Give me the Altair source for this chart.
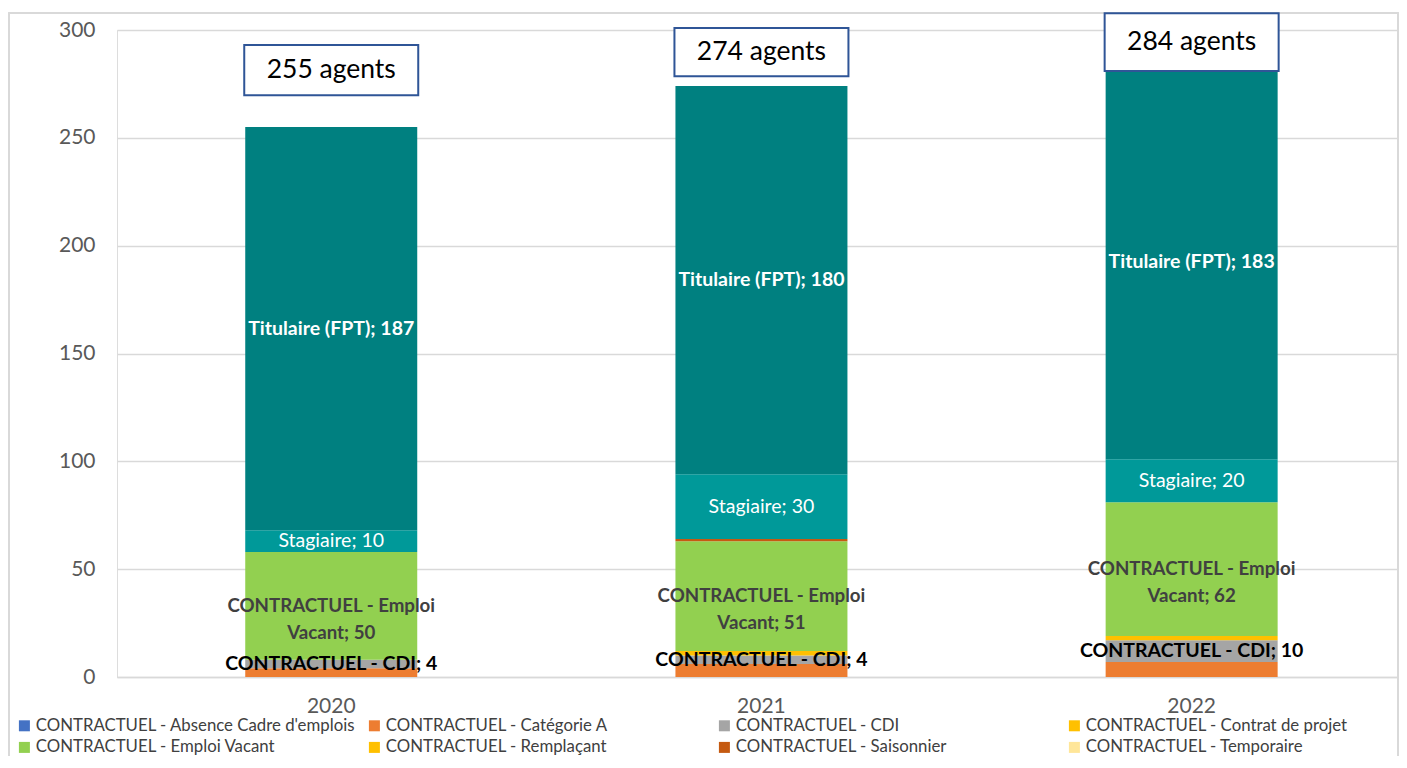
import altair as alt
import pandas as pd

years = ["2020", "2021", "2022"]
categories = [
    "CONTRACTUEL - Absence Cadre d'emplois",
    "CONTRACTUEL - Catégorie A",
    "CONTRACTUEL - CDI",
    "CONTRACTUEL - Contrat de projet",
    "CONTRACTUEL - Emploi Vacant",
    "CONTRACTUEL - Remplaçant",
    "CONTRACTUEL - Saisonnier",
    "CONTRACTUEL - Temporaire",
    "Stagiaire",
    "Titulaire (FPT)",
]
colors = ["#4472C4", "#ED7D31", "#A5A5A5", "#FFC000", "#92D050",
          "#FFC000", "#C55A11", "#FFE699", "#009999", "#008080"]

absence = [0, 0, 0]
cat_a = [4, 6, 7]
cdi = [4, 4, 10]
contrat_projet = [0, 2, 2]
emploi_vacant = [50, 51, 62]
remplacant = [0, 0, 0]
saisonnier = [0, 1, 0]
temporaire = [0, 0, 0]
stagiaire = [10, 30, 20]
titulaire = [187, 180, 183]

totals = [255, 274, 284]
box_bottom = [269.8, 278.6, 281.0]
box_top = [293.0, 300.9, 307.8]

series = [absence, cat_a, cdi, contrat_projet, emploi_vacant,
          remplacant, saisonnier, temporaire, stagiaire, titulaire]

rows = []
for ci, (cat, vals) in enumerate(zip(categories, series)):
    for yi, y in enumerate(years):
        v = vals[yi]
        if cat == "CONTRACTUEL - Emploi Vacant":
            lab = f"CONTRACTUEL - Emploi\nVacant; {v}"
        else:
            lab = f"{cat}; {v}"
        rows.append({"year": y, "category": cat, "value": v, "order": ci, "label": lab})
df = pd.DataFrame(rows)

boxes = pd.DataFrame({"year": years, "lo": box_bottom, "hi": box_top,
                      "mid": [(a + b) / 2 for a, b in zip(box_bottom, box_top)],
                      "txt": [f"{t} agents" for t in totals]})

FONT = "Lato"
x_scale = alt.Scale(paddingInner=0.1, paddingOuter=0.04, align=0.6)
x_enc = alt.X("year:N", title=None, sort=years, scale=x_scale,
              axis=alt.Axis(labelAngle=0, labelFontSize=21, labelColor="#595959",
                            labelPadding=18, ticks=False, domainColor="#D9D9D9",
                            domainWidth=1.5, grid=False, labelFont=FONT))
y_scale = alt.Scale(domain=[0, 300], nice=False)
y_axis = alt.Axis(values=[0, 50, 100, 150, 200, 250, 300], labelFontSize=21,
                  labelColor="#595959", labelPadding=22, ticks=False, domain=False,
                  gridColor="#D9D9D9", gridWidth=1.5, labelFont=FONT)

bars = alt.Chart(df).mark_bar(size=172).encode(
    x=x_enc,
    y=alt.Y("sum(value):Q", title=None, scale=y_scale, axis=y_axis, stack="zero"),
    color=alt.Color("category:N", sort=categories,
                    scale=alt.Scale(domain=categories, range=colors),
                    legend=alt.Legend(
                        values=categories[:8], title=None, orient="none",
                        direction="horizontal", columns=4, legendX=-101, legendY=687,
                        symbolType="square", symbolSize=121, symbolStrokeWidth=0,
                        labelFontSize=16.8, labelColor="#404040", labelFont=FONT,
                        labelLimit=400, gridAlign="all", columnPadding=10,
                        rowPadding=4, labelOffset=3, padding=0)),
    order=alt.Order("order:Q", sort="ascending"),
)

base_lab = alt.Chart(df).transform_window(
    cum="sum(value)", groupby=["year"], sort=[alt.SortField("order")], frame=[None, 0]
).transform_calculate(mid="datum.cum - datum.value / 2")

def lab_layer(cat, color, weight, size):
    return base_lab.transform_filter(alt.datum.category == cat).mark_text(
        color=color, fontWeight=weight, fontSize=size, font=FONT, lineBreak="\n",
        lineHeight=27, baseline="middle", align="center"
    ).encode(x=alt.X("year:N", sort=years, scale=x_scale),
             y=alt.Y("mid:Q", scale=y_scale), text="label:N")

lab_tit = lab_layer("Titulaire (FPT)", "white", "bold", 19.5)
lab_stag = lab_layer("Stagiaire", "white", "normal", 19.5)
lab_ev = lab_layer("CONTRACTUEL - Emploi Vacant", "#404040", "bold", 18.7)
lab_cdi = lab_layer("CONTRACTUEL - CDI", "black", "bold", 19.5)

box = alt.Chart(boxes).mark_bar(size=174, fill="white", stroke="#2F5597",
                                strokeWidth=2, clip=False).encode(
    x=alt.X("year:N", sort=years, scale=x_scale), y=alt.Y("lo:Q", scale=y_scale), y2="hi:Q")
box_txt = alt.Chart(boxes).mark_text(fontSize=26.5, font=FONT, color="black",
                                     baseline="middle").encode(
    x=alt.X("year:N", sort=years, scale=x_scale), y=alt.Y("mid:Q", scale=y_scale),
    text="txt:N")

border = alt.Chart(boxes).mark_rect(fill=None, stroke="#D9D9D9", strokeWidth=1.5).encode(
    x=alt.value(-108), x2=alt.value(1281), y=alt.value(-17), y2=alt.value(758))

chart = alt.layer(border, bars, lab_tit, lab_stag, lab_ev, lab_cdi, box, box_txt).properties(
    width=1282, height=647,
    autosize=alt.AutoSizeParams(type="none"),
    padding={"left": 109, "top": 22, "right": 0, "bottom": 79},
).configure_view(stroke=None).configure(font=FONT)

chart.save("out.html", embed_options={"renderer": "svg", "actions": False})
